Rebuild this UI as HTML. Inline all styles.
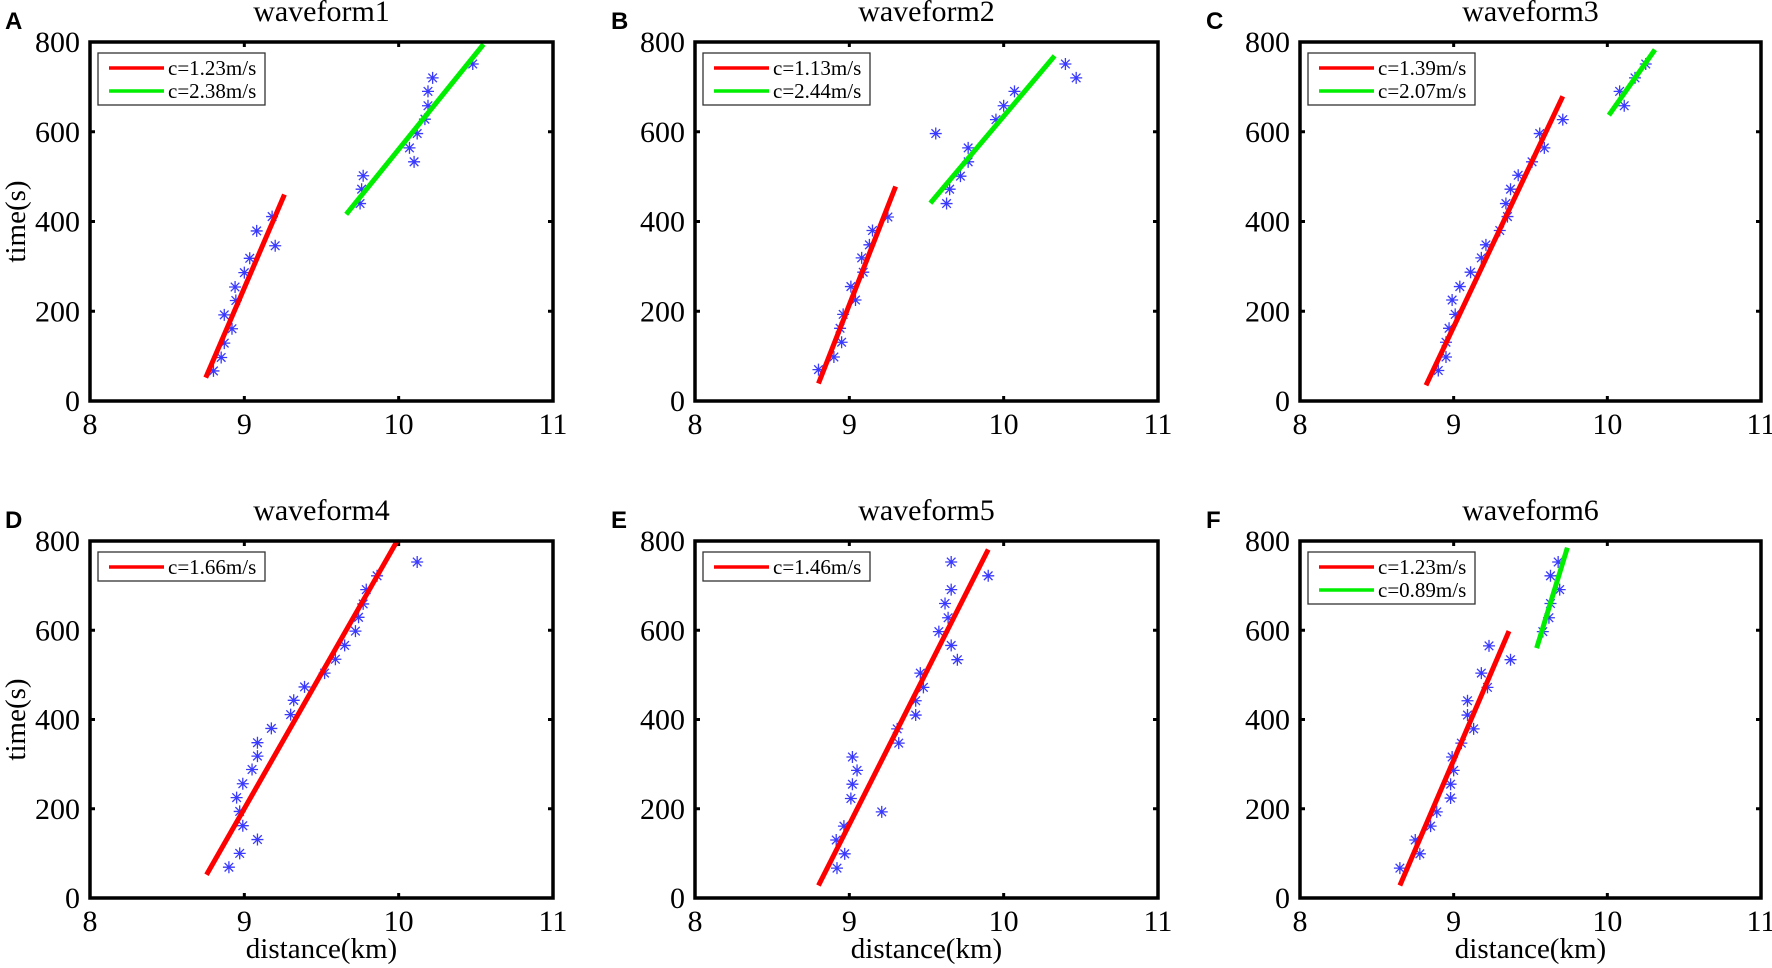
<!DOCTYPE html>
<html><head><meta charset="utf-8">
<style>
html,body{margin:0;padding:0;background:#fff;}
svg{display:block;}
svg text{font-family:"Liberation Serif","Times New Roman",serif;fill:#000;}
svg text.lbl{font-family:"Liberation Sans",Arial,sans-serif;font-weight:bold;}
</style></head>
<body>
<svg id="fig" width="1772" height="968" viewBox="0 0 1772 968" xmlns="http://www.w3.org/2000/svg"></svg>
<script>
const xTicks=[8,9,10,11];
const yTicks=[0,200,400,600,800];
const panelLetters=["A","B","C","D","E","F"];
const panelTitles=["waveform1","waveform2","waveform3","waveform4","waveform5","waveform6"];
const legendLabels=[["c=1.23m/s","c=2.38m/s"],["c=1.13m/s","c=2.44m/s"],["c=1.39m/s","c=2.07m/s"],["c=1.66m/s"],["c=1.46m/s"],["c=1.23m/s","c=0.89m/s"]];
const ptsX1=[8.80,8.85,8.87,8.92,8.87,8.945,8.94,9.0,9.035,9.08,9.2,9.18,9.75,9.76,9.77,10.1,10.07,10.12,10.17,10.19,10.19,10.22,10.48];
const ptsY1=[67,97,129,161,192,224,254,286,318,379,346,411,440,472,502,533,564,596,628,658,690,720,751];
const ptsX2=[8.80,8.90,8.95,8.94,8.96,9.04,9.01,9.09,9.08,9.13,9.15,9.25,9.63,9.65,9.72,9.77,9.77,9.56,9.95,10.0,10.07,10.40,10.47];
const ptsY2=[70,98,131,162,193,225,255,287,319,348,380,410,440,472,501,533,564,596,627,658,690,751,720];
const ptsX3=[8.90,8.95,8.95,8.97,9.01,8.99,9.04,9.11,9.18,9.21,9.30,9.35,9.34,9.37,9.42,9.51,9.59,9.56,9.71,10.11,10.08,10.18,10.25];
const ptsY3=[68,98,131,162,193,225,255,287,319,348,380,411,440,472,503,533,564,596,627,658,690,720,751];
const ptsX4=[8.90,8.97,9.085,8.99,8.97,8.95,8.99,9.05,9.085,9.085,9.175,9.30,9.32,9.39,9.52,9.59,9.65,9.72,9.74,9.77,9.79,9.86,10.12];
const ptsY4=[69,100,131,162,194,225,256,288,318,348,380,411,443,473,504,535,566,598,629,659,691,722,753];
const ptsX5=[8.92,8.97,8.915,8.965,9.21,9.01,9.02,9.05,9.02,9.32,9.31,9.43,9.43,9.48,9.46,9.70,9.66,9.58,9.64,9.62,9.66,9.90,9.66];
const ptsY5=[67,99,130,161,193,223,255,286,316,347,379,410,442,472,504,534,566,597,628,660,691,722,753];
const ptsX6=[8.65,8.78,8.75,8.85,8.89,8.98,8.98,9.0,8.99,9.05,9.13,9.09,9.09,9.22,9.18,9.37,9.23,9.58,9.62,9.63,9.69,9.63,9.68];
const ptsY6=[67,99,130,161,193,224,255,286,316,347,379,410,442,472,504,534,565,597,628,660,691,722,753];
const redX=[[8.75,9.26],[8.80,9.30],[8.82,9.71],[8.755,9.99],[8.80,9.90],[8.65,9.36]];
const redY=[[52,460],[39,478],[35,679],[52,800],[28,781],[28,598]];
const greenX=[[9.66,10.55],[9.525,10.33],[10.01,10.31],null,null,[9.54,9.74]];
const greenY=[[416,795],[441,769],[637,783],null,null,[560,785]];

const allX=[ptsX1,ptsX2,ptsX3,ptsX4,ptsX5,ptsX6];
const allY=[ptsY1,ptsY2,ptsY3,ptsY4,ptsY5,ptsY6];
const NS="http://www.w3.org/2000/svg";
const svg=document.getElementById('fig');
const SERIF='"Liberation Serif", "Times New Roman", serif';
function mk(tag,attrs,parent){const e=document.createElementNS(NS,tag);for(const k in attrs)e.setAttribute(k,attrs[k]);if(tag==='text'&&!attrs['class'])e.setAttribute('font-family',SERIF);(parent||svg).appendChild(e);return e;}
const lefts=[90,695,1300], rights=[553,1158,1761], tops=[42,541], bottoms=[401,898];
const letterX=[5,611,1206];
for(let p=0;p<6;p++){
  const col=p%3,row=Math.floor(p/3);
  const L=lefts[col],R=rights[col],T=tops[row],B=bottoms[row];
  const g=mk('g',{});
  
  
  const sx=v=>L+(v-8)/3*(R-L);
  const sy=v=>B-v/800*(B-T);
  const let_=mk('text',{x:letterX[col],y:T-13,'font-size':24,class:'lbl','font-family':'"Liberation Sans", Arial, sans-serif','font-weight':'bold'},g);let_.textContent=panelLetters[p];
  
  const ti=mk('text',{x:(L+R)/2,y:T-21,'font-size':30,'text-anchor':'middle'},g);ti.textContent=panelTitles[p];
  
  xTicks.forEach(t=>{
    const x=sx(t);
    if(t>8&&t<11){mk('line',{x1:x,y1:B,x2:x,y2:B-5,stroke:'#000','stroke-width':3},g);mk('line',{x1:x,y1:T,x2:x,y2:T+5,stroke:'#000','stroke-width':3},g);}
    const tx=mk('text',{x:x,y:B+33,'font-size':30,'text-anchor':'middle'},g);tx.textContent=t;
    
  });
  yTicks.forEach(t=>{
    const y=sy(t);
    if(t>0&&t<800){mk('line',{x1:L,y1:y,x2:L+5,y2:y,stroke:'#000','stroke-width':3},g);mk('line',{x1:R,y1:y,x2:R-5,y2:y,stroke:'#000','stroke-width':3},g);}
    const ty=mk('text',{x:L-10,y:y+10,'font-size':30,'text-anchor':'end'},g);ty.textContent=t;
    
  });
  if(col===0){
    const yl=mk('text',{x:0,y:0,'font-size':29,'text-anchor':'middle',transform:`translate(25,${(T+B)/2}) rotate(-90)`},g);yl.textContent='time(s)';
    
  }
  if(row===1){
    const xl=mk('text',{x:(L+R)/2,y:B+60,'font-size':29,'text-anchor':'middle'},g);xl.textContent='distance(km)';
    
  }
  const xs=allX[p],ys=allY[p];
  for(let i=0;i<xs.length;i++){
    const cx=sx(xs[i]),cy=sy(ys[i]),r=6,d=4.3;
    const m=mk('path',{d:`M${cx-r},${cy}H${cx+r}M${cx},${cy-r}V${cy+r}M${cx-d},${cy-d}L${cx+d},${cy+d}M${cx-d},${cy+d}L${cx+d},${cy-d}`,stroke:'#3a3aff','stroke-width':1.3,fill:'none'},g);
    
    
  }
  const rl=mk('line',{x1:sx(redX[p][0]),y1:sy(redY[p][0]),x2:sx(redX[p][1]),y2:sy(redY[p][1]),stroke:'#ff0000','stroke-width':5},g);
  
  if(greenX[p]){
    const gl=mk('line',{x1:sx(greenX[p][0]),y1:sy(greenY[p][0]),x2:sx(greenX[p][1]),y2:sy(greenY[p][1]),stroke:'#00ee00','stroke-width':5},g);
    
  }
  const fr=mk('rect',{x:L,y:T,width:R-L,height:B-T,fill:'none',stroke:'#000','stroke-width':3.5},g);
  
  const n=legendLabels[p].length;
  const lg=mk('g',{},g);
  
  mk('rect',{x:L+8,y:T+11,width:167,height:n===2?52:29,fill:'#fff',stroke:'#333','stroke-width':1.3},lg);
  legendLabels[p].forEach((lab,i)=>{
    const y=T+26+i*23;
    mk('line',{x1:L+19,y1:y,x2:L+74,y2:y,stroke:i===0?'#ff0000':'#00ee00','stroke-width':3.5},lg);
    const t=mk('text',{x:L+78,y:y+7,'font-size':21},lg);t.textContent=lab;
    
  });
}
</script>
</body></html>
